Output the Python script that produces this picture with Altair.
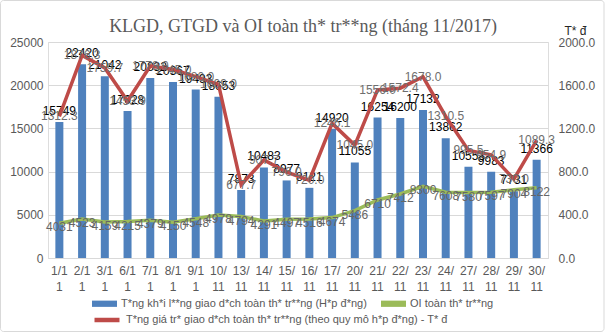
import altair as alt
import pandas as pd

dates = ["1/11", "2/11", "3/11", "6/11", "7/11", "8/11", "9/11", "10/11", "13/11", "14/11", "15/11",
         "16/11", "17/11", "20/11", "21/11", "22/11", "23/11", "24/11", "27/11", "28/11", "29/11", "30/11"]
volume = [15749, 22420, 21042, 17028, 20832, 20367, 19493, 18653, 7873, 10483, 8977,
          8121, 14920, 11055, 16254, 16200, 17132, 13862, 10553, 9983, 7731, 11366]
oi = [4031, 4523, 4159, 4215, 4379, 4150, 4548, 4978, 4794, 4291, 4497,
      4516, 4674, 5486, 6710, 7412, 8300, 7608, 7580, 7597, 7904, 8122]
value = [1312.3, 1876.3, 1759.7, 1453.9, 1778.0, 1745.0, 1680.0, 1609.0, 677.7, 907.7, 796.0,
         720.0, 1246.1, 1045.0, 1556.0, 1572.4, 1678.0, 1310.5, 995.5, 954.9, 730.0, 1089.3]

title_text = "KLGD, GTGD và OI toàn th* tr**ng (tháng 11/2017)"
s_vol = "T*ng kh*i l**ng giao d*ch toàn th* tr**ng (H*p đ*ng)"
s_oi = "OI toàn th* tr**ng"
s_val = "T*ng giá tr* giao d*ch toàn th* tr**ng (theo quy mô h*p đ*ng) - T* đ"
c_vol, c_oi, c_val = "#4F81BD", "#9BBB59", "#BE4B48"

df = pd.DataFrame({"date": dates, "vol": volume, "oi": oi, "val": value})

FONT = "Liberation Sans"
GRAY = "#595959"

xenc = alt.X("date:N", sort=dates, title=None,
             scale=alt.Scale(paddingInner=0, paddingOuter=0),
             axis=alt.Axis(labelAngle=0, ticks=False, domainColor="#d9d9d9",
                           labelColor=GRAY, labelFontSize=12, labelFont=FONT,
                           labelPadding=7, labelLineHeight=16,
                           labelExpr="[substring(datum.label,0,3), substring(datum.label,3)]"))

color_enc = alt.Color("s:N", scale=alt.Scale(domain=[s_vol, s_oi], range=[c_vol, c_oi]),
                      legend=alt.Legend(title=None, orient="none", legendX=44, legendY=249,
                                        direction="horizontal", columnPadding=14,
                                        symbolType="M-1,-0.25H1V0.25H-1Z", symbolSize=625,
                                        symbolStrokeWidth=0, labelFontSize=11, labelFont=FONT,
                                        labelColor=GRAY, labelLimit=500))

stroke_enc = alt.Stroke("s:N", scale=alt.Scale(domain=[s_val], range=[c_val]),
                        legend=alt.Legend(title=None, orient="none", legendX=44, legendY=263,
                                          direction="horizontal",
                                          symbolType="stroke", symbolSize=625,
                                          symbolStrokeWidth=4.5, labelFontSize=11, labelFont=FONT,
                                          labelColor=GRAY, labelLimit=500))

yleft = alt.Y("vol:Q", title=None,
              scale=alt.Scale(domain=[0, 25000], nice=False),
              axis=alt.Axis(values=[0, 5000, 10000, 15000, 20000, 25000], format="d",
                            ticks=False, domain=False, gridColor="#d9d9d9",
                            labelColor=GRAY, labelFontSize=12, labelFont=FONT, labelPadding=5))

base = alt.Chart(df).encode(x=xenc)

bars = base.mark_bar(size=8).transform_calculate(s=f"'{s_vol}'").encode(y=yleft, color=color_enc)
bar_labels = base.mark_text(baseline="bottom", dy=-4, fontSize=12, font=FONT, color="#000000").encode(
    y=alt.Y("vol:Q"), text=alt.Text("vol:Q", format="d"))

oi_line = base.mark_line(strokeWidth=3.5).transform_calculate(s=f"'{s_oi}'").encode(
    y=alt.Y("oi:Q"), color=color_enc)
oi_labels = base.mark_text(baseline="middle", dy=4, fontSize=12, font=FONT, color="#666666").encode(
    y=alt.Y("oi:Q"), text=alt.Text("oi:Q", format="d"))

left = alt.layer(bars, oi_line, bar_labels, oi_labels)

val_line = base.mark_line(strokeWidth=3.5).transform_calculate(s=f"'{s_val}'").encode(
    y=alt.Y("val:Q", title="T* đ",
            scale=alt.Scale(domain=[0, 2000], nice=False),
            axis=alt.Axis(orient="right", values=list(range(0, 2001, 200)), format=".1f",
                          ticks=False, domain=False, grid=False,
                          labelColor=GRAY, labelFontSize=12, labelFont=FONT, labelPadding=10,
                          titleAngle=0, titleX=27, titleY=-12, titleAlign="center",
                          titleBaseline="middle", titleFontWeight="normal", titleFontSize=12,
                          titleFont=FONT, titleColor="#262626")),
    stroke=stroke_enc)
val_labels = base.mark_text(baseline="middle", fontSize=12, font=FONT, color="#6e6e6e").encode(
    y=alt.Y("val:Q"), text=alt.Text("val:Q", format=".1f"))

right = alt.layer(val_line, val_labels)

deco = pd.DataFrame({"t": [title_text]})
border = alt.Chart(deco).mark_rect(
    fill=None, stroke="#d9d9d9", strokeWidth=1, cornerRadius=3).encode(
    x=alt.value(-47.5), x2=alt.value(556), y=alt.value(-41.5), y2=alt.value(289.5))
title = alt.Chart(deco).mark_text(font="Liberation Serif", fontSize=18, color=GRAY,
                                  align="center", baseline="middle").encode(
    x=alt.value(255), y=alt.value(-15), text="t:N")

chart = alt.layer(left, right, border, title).resolve_scale(y="independent").properties(
    width=500, height=216,
    autosize=alt.AutoSizeParams(type="none"),
    padding={"left": 48, "top": 42, "right": 57, "bottom": 74},
).configure_view(stroke=None).configure(background="white")

chart.save("out.html", embed_options={"renderer": "svg", "actions": False})
